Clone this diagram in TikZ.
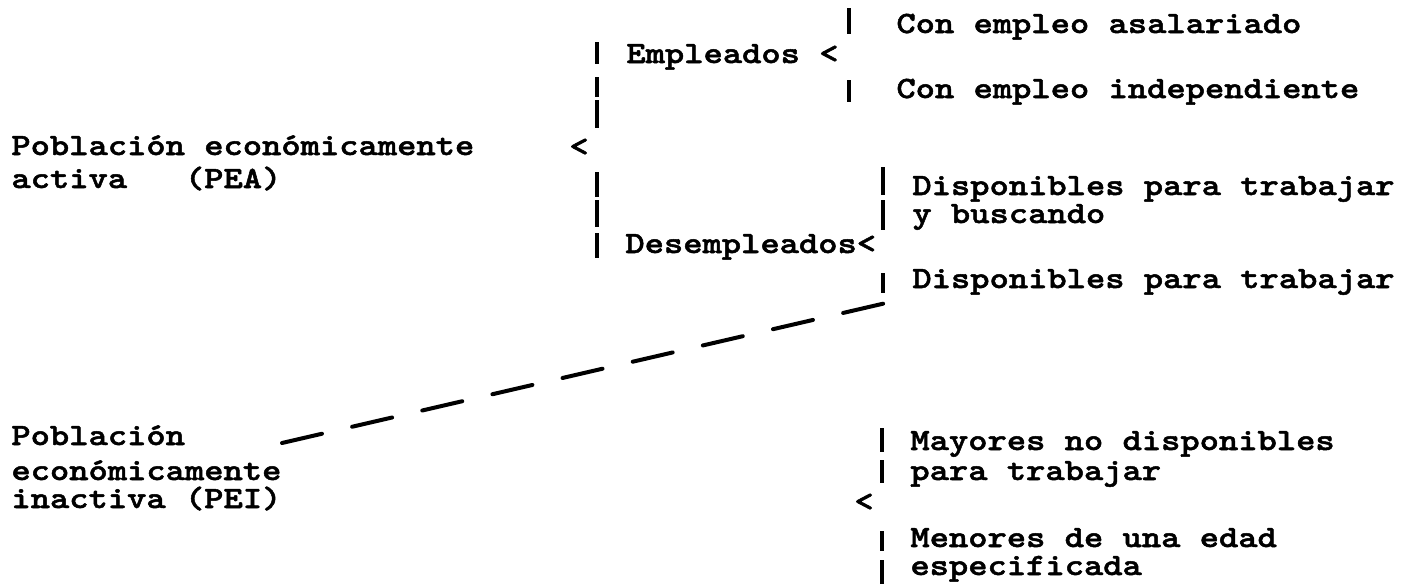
\documentclass[tikz,border=0pt]{standalone}
\usepackage{fontspec}
\newfontfamily\tw{lmmonolt10-bold.otf}[FakeStretch=1.185,FakeBold=1.6]
\begin{document}
\begin{tikzpicture}[x=0.5pt,y=-0.5pt,
  txt/.style={anchor=base west,inner sep=0pt,font=\tw\fontsize{15.5}{18}\selectfont},
  bar/.style={line width=1.6pt},
  link/.style={line width=2pt,dash pattern=on 20.5pt off 15.5pt,line cap=round}]
\useasboundingbox (0,0) rectangle (1412,584);
% PEA branch
\node[txt] (asal)  at (896,33)  {Con empleo asalariado};
\node[txt] (emp)   at (626,63)  {Empleados <};
\node[txt] (indep) at (896,98)  {Con empleo independiente};
\node[txt] (pea1)  at (11,155)  {Población económicamente};
\node[txt] (peaA)  at (569,156) {<};
\node[txt] (pea2)  at (11,188)  {activa\ \ \ (PEA)};
\node[txt] (disp1) at (912,195) {Disponibles para trabajar};
\node[txt] (busc)  at (912,223) {y buscando};
\node[txt] (dese)  at (625,253) {Desempleados<};
\node[txt] (disp2) at (912,288) {Disponibles para trabajar};
% PEI branch
\node[txt] (pei1)  at (11,445)  {Población};
\node[txt] (pei2)  at (11,480)  {económicamente};
\node[txt] (pei3)  at (11,508)  {inactiva (PEI)};
\node[txt] (may1)  at (910,450) {Mayores no disponibles};
\node[txt] (may2)  at (910,480) {para trabajar};
\node[txt] (peiA)  at (854,511) {<};
\node[txt] (men1)  at (910,547) {Menores de una edad};
\node[txt] (men2)  at (910,575) {especificada};
% bars
\foreach \x/\a/\b in {849/8/34, 849/80/102,
  597/42/64, 597/77/97, 597/100/128, 597/172/197, 597/200/227, 597/233/258,
  883/167/195, 883/200/230, 883/273/293,
  882/428/452, 882/460/483, 882/531/551, 882/560/584}
  \draw[bar] (\x,\a) -- (\x,\b);
% dashed link between PEA and PEI
\coordinate (dTop) at (886,303);
\coordinate (dBot) at (282,443);
\draw[link] (dBot) -- (dTop);
\end{tikzpicture}
\end{document}
